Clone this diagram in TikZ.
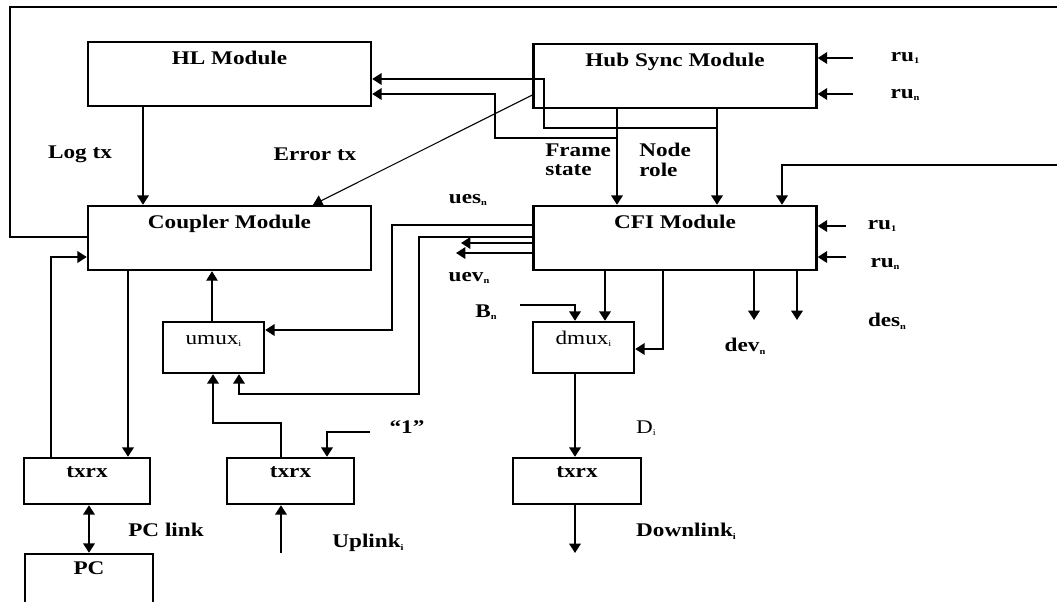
\documentclass[tikz,border=0pt]{standalone}
\usepackage{fontspec}
\setmainfont{Liberation Serif}[FakeStretch=1.2]
\usetikzlibrary{arrows.meta}
\newcommand\sbs[1]{\raisebox{-0.3ex}{\fontsize{6.5}{6.5}\selectfont #1}}
\begin{document}
\begin{tikzpicture}[x=0.75pt,y=-0.75pt,
  box/.style={draw, line width=1.8pt, inner xsep=0pt, inner ysep=0pt, font=\fontsize{14.5}{16}\selectfont\bfseries},
  big/.style={box, minimum width=212.25pt, text height=17pt, text depth=31pt},
  mux/.style={box, font=\fontsize{14.5}{16}\selectfont, minimum width=75.75pt, text height=16.5pt, text depth=21.75pt},
  trx/.style={box, text height=14.25pt, text depth=20.25pt},
  lbl/.style={inner sep=0pt, font=\fontsize{14.5}{14.5}\selectfont\bfseries},
  arr/.style={line width=1.6pt, -{Triangle[length=7pt,width=8.5pt]}},
  darr/.style={line width=1.6pt, {Triangle[length=7pt,width=8.5pt]}-{Triangle[length=7pt,width=8.5pt]}},
  thinarr/.style={line width=0.8pt, -{Triangle[length=7pt,width=8.5pt]}}
]
\useasboundingbox (0,0) rectangle (1057,601);
% boxes
\node[big] (HL) at (229.5,74) {HL Module};
\node[big] (HS) at (675,76) {Hub Sync Module};
\node[big] (CM) at (229.5,238) {Coupler Module};
\node[big] (CFI) at (675,238) {CFI Module};
\node[mux] (UM) at (213.5,347.5) {umux\sbs{i}};
\node[mux] (DM) at (583.5,347.5) {dmux\sbs{i}};
\node[trx, minimum width=94.5pt] (T1) at (87,481) {txrx};
\node[trx, minimum width=95.25pt] (T2) at (290.5,481) {txrx};
\node[trx, minimum width=96pt] (T3) at (577,481) {txrx};
\node[box, minimum width=96pt, text height=15pt, text depth=28.5pt] (PC) at (89,583) {PC};

% HL -> Coupler
\coordinate (cLog) at (143,0);
\draw[arr] (HL.south -| cLog) -- (CM.north -| cLog);
% Hub -> Coupler (Error tx)
\coordinate (dA) at (534,95);
\coordinate (dB) at (313,0);
\draw[thinarr] (HS.west |- dA) -- (CM.north -| dB);
% Frame state / Node role
\coordinate (xFS) at (617,0);
\coordinate (xNR) at (717,0);
\draw[arr] (HS.south -| xFS) -- (CFI.north -| xFS);
\draw[arr] (HS.south -| xNR) -- (CFI.north -| xNR);
\coordinate (bNR) at (717,128);
\coordinate (k1) at (544,79);
\draw[arr] (bNR) -| (k1) -- (HL.east |- k1);
\coordinate (bFS) at (617,138);
\coordinate (k2) at (495,94);
\draw[arr] (bFS) -| (k2) -- (HL.east |- k2);
% outer loop
\coordinate (oL) at (10,237);
\coordinate (oT) at (10,7);
\coordinate (oR) at (1075,7);
\coordinate (oRB) at (1075,165);
\coordinate (oF) at (782,165);
\draw[arr] (CM.west |- oL) -- (oL) -- (oT) -- (oR) -- (oRB) -- (oF) -- (CFI.north -| oF);
% Hub inputs
\coordinate (hr1) at (853,58);
\coordinate (hr2) at (853,94);
\draw[arr] (hr1) -- (HS.east |- hr1);
\draw[arr] (hr2) -- (HS.east |- hr2);
% CFI inputs
\coordinate (cr1) at (846,226);
\coordinate (cr2) at (846,257);
\draw[arr] (cr1) -- (CFI.east |- cr1);
\draw[arr] (cr2) -- (CFI.east |- cr2);
% CFI left outputs
\coordinate (u1) at (392,225);
\coordinate (u1b) at (392,330);
\draw[arr] (CFI.west |- u1) -- (u1) -- (u1b) -- (UM.east |- u1b);
\coordinate (u2) at (419,237);
\coordinate (u2b) at (419,394);
\coordinate (u2c) at (239,394);
\draw[arr] (CFI.west |- u2) -- (u2) -- (u2b) -- (u2c) -- (UM.south -| u2c);
\coordinate (v1) at (461,243);
\coordinate (v2) at (456,253);
\draw[arr] (CFI.west |- v1) -- (v1);
\draw[arr] (CFI.west |- v2) -- (v2);
% umux -> coupler
\coordinate (xUC) at (212,0);
\draw[thinarr] (UM.north -| xUC) -- (CM.south -| xUC);
% txrx2 -> umux
\coordinate (t2a) at (281,423);
\coordinate (t2b) at (213,423);
\draw[arr] (T2.north -| t2a) -- (t2a) -- (t2b) -- (UM.south -| t2b);
\coordinate (one) at (370,432);
\coordinate (oneb) at (327,432);
\draw[arr] (one) -- (oneb) -- (T2.north -| oneb);
\coordinate (up) at (281,553);
\draw[arr] (up) -- (T2.south -| up);
% coupler <-> txrx1
\coordinate (xCT) at (128,0);
\draw[arr] (CM.south -| xCT) -- (T1.north -| xCT);
\coordinate (tc) at (51,257);
\draw[arr] (T1.north -| tc) -- (tc) -- (CM.west |- tc);
\coordinate (xPC) at (89,0);
\draw[darr] (T1.south -| xPC) -- (PC.north -| xPC);
% CFI -> dmux
\coordinate (xCD) at (605,0);
\draw[arr] (CFI.south -| xCD) -- (DM.north -| xCD);
\coordinate (cd2) at (663,349);
\draw[arr] (CFI.south -| cd2) -- (cd2) -- (DM.east |- cd2);
\coordinate (bn) at (520,305);
\coordinate (bn2) at (575,305);
\draw[arr] (bn) -- (bn2) -- (DM.north -| bn2);
\coordinate (dv1) at (754,320);
\coordinate (dv2) at (797,320);
\draw[arr] (CFI.south -| dv1) -- (dv1);
\draw[arr] (CFI.south -| dv2) -- (dv2);
% dmux -> txrx3 -> downlink
\coordinate (xDT) at (575,0);
\draw[arr] (DM.south -| xDT) -- (T3.north -| xDT);
\coordinate (dl) at (575,553);
\draw[arr] (T3.south -| dl) -- (dl);

% labels
\node[lbl] (Llog) at (80,154) {Log tx};
\node[lbl] (Lerr) at (315,154) {Error tx};
\node[lbl, align=left, anchor=west] (Lfs) at (545,160) {Frame\\state};
\node[lbl, align=left, anchor=west] (Lnr) at (639,160) {Node\\role};
\node[lbl] (Lues) at (468,200) {ues\sbs{n}};
\node[lbl] (Luev) at (469,278) {uev\sbs{n}};
\node[lbl] (Lbn) at (486,312) {B\sbs{n}};
\node[lbl] (Ldev) at (745,346) {dev\sbs{n}};
\node[lbl] (Ldes) at (887,321) {des\sbs{n}};
\node[lbl, font=\fontsize{14.5}{14.5}\selectfont] (Ldi) at (646,428) {D\sbs{i}};
\node[lbl] (Lone) at (407,427) {“1”};
\node[lbl] (Lup) at (368,543) {Uplink\sbs{i}};
\node[lbl] (Lpcl) at (166,530) {PC link};
\node[lbl] (Ldl) at (686,531) {Downlink\sbs{i}};
\node[lbl] (Lh1) at (905,58) {ru\sbs{1}};
\node[lbl] (Lh2) at (905,95) {ru\sbs{n}};
\node[lbl] (Lc1) at (882,226) {ru\sbs{1}};
\node[lbl] (Lc2) at (885,264) {ru\sbs{n}};
\end{tikzpicture}
\end{document}
